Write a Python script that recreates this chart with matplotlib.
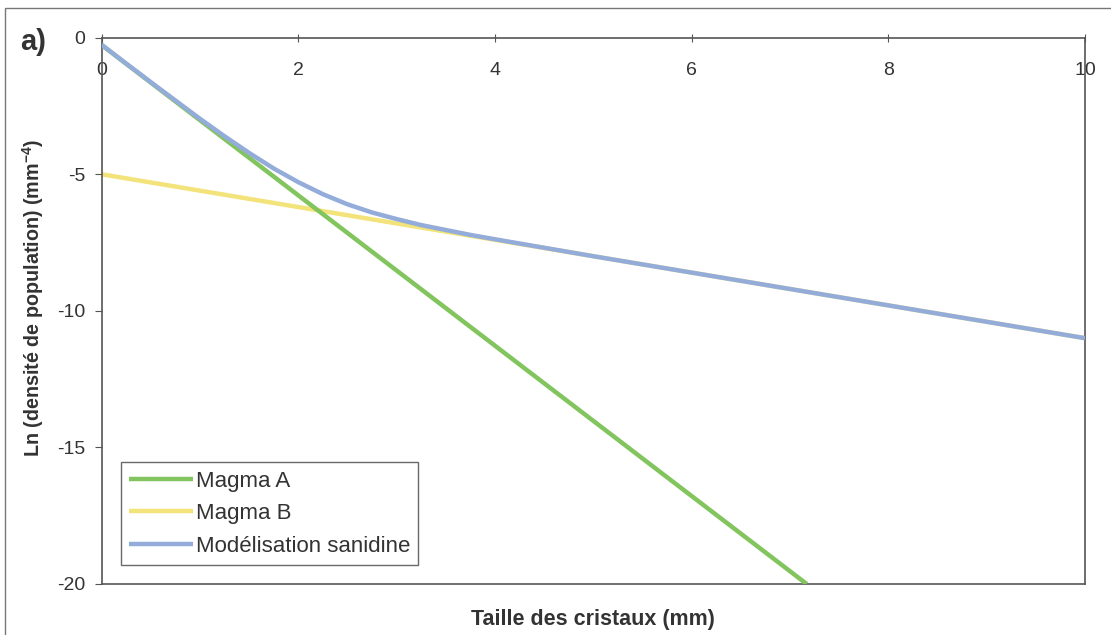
import matplotlib
matplotlib.use("Agg")
import matplotlib.pyplot as plt
from matplotlib.patches import Rectangle

plt.rcParams['font.family'] = ['Liberation Sans', 'DejaVu Sans']
plt.rcParams['mathtext.fontset'] = 'custom'
plt.rcParams['mathtext.rm'] = 'Liberation Sans'
plt.rcParams['mathtext.bf'] = 'Liberation Sans:bold'

# Crystal size distributions (size in mm, ln of population density)
magma_a_x = [0.0, 7.17]
magma_a_y = [-0.27, -20.0]

magma_b_x = [0.0, 10.0]
magma_b_y = [-5.0, -11.0]

sanidine_x = [0.0, 0.25, 0.5, 0.75, 1.0, 1.25, 1.5, 1.75, 2.0, 2.25, 2.5,
              2.75, 3.0, 3.25, 3.5, 3.75, 4.0, 4.5, 5.0, 6.0, 7.0, 8.0,
              9.0, 10.0]
sanidine_y = [-0.26, -0.95, -1.63, -2.30, -2.97, -3.61, -4.22, -4.79, -5.29,
              -5.73, -6.10, -6.40, -6.64, -6.86, -7.04, -7.22, -7.38, -7.69,
              -8.0, -8.6, -9.2, -9.8, -10.4, -11.0]

series_labels = ["Magma A", "Magma B", "Modélisation sanidine"]
x_ticks = [0, 2, 4, 6, 8, 10]
y_ticks = [0, -5, -10, -15, -20]

W, H = 1111, 635
fig = plt.figure(figsize=(W / 100, H / 100), dpi=100)
ax = fig.add_axes([101.7 / W, 1 - 584 / H, (1085 - 101.7) / W, (584 - 37.7) / H])

green = '#82c45e'
yellow = '#f2e37a'
blue = '#93acd9'
lw = 3.2

ax.plot(magma_a_x, magma_a_y, color=green, lw=lw, solid_capstyle='butt',
        label=series_labels[0], zorder=3)
ax.plot(magma_b_x, magma_b_y, color=yellow, lw=lw, solid_capstyle='butt',
        label=series_labels[1], zorder=2)
ax.plot(sanidine_x, sanidine_y, color=blue, lw=lw, solid_capstyle='butt',
        label=series_labels[2], zorder=4)

ax.set_xlim(0, 10)
ax.set_ylim(-20, 0)

spine_col = '#555555'
for s in ax.spines.values():
    s.set_color(spine_col)
    s.set_linewidth(1.2)

ax.set_xticks(x_ticks)
ax.set_xticklabels([str(v) for v in x_ticks])
ax.set_yticks(y_ticks)
ax.set_yticklabels([str(v) for v in y_ticks])

ax.tick_params(axis='x', top=True, bottom=False, labeltop=True,
               labelbottom=False, direction='inout', length=6,
               color=spine_col, labelsize=14, labelcolor='#333333', pad=-33)
ax.tick_params(axis='y', direction='out', length=5, color=spine_col,
               labelsize=14, labelcolor='#333333', pad=7)

leg = ax.legend(loc='lower left', bbox_to_anchor=(0.0193, 0.0348),
                borderaxespad=0, fancybox=False, frameon=True,
                fontsize=16, handlelength=2.9, handletextpad=0.1,
                labelspacing=0.52, borderpad=0.37)
leg.get_frame().set_edgecolor('#444444')
leg.get_frame().set_linewidth(1.0)
for t in leg.get_texts():
    t.set_color('#333333')

fig.text(593 / W, 1 - 620 / H, "Taille des cristaux (mm)", ha='center',
         va='center', fontsize=15.5, fontweight='bold', color='#333333')
fig.text(33 / W, 1 - 298 / H,
         r'Ln (densité de population) (mm$^{\mathbf{-4}}$)',
         ha='center', va='center', rotation=90, fontsize=14.2,
         fontweight='bold', color='#333333')
fig.text(33.5 / W, 1 - 42 / H, "a)", ha='center', va='center', fontsize=21,
         fontweight='bold', color='#333333')

# outer frame of the figure panel
fig.patches.append(Rectangle((5 / W, -0.1), 1.2, 1 - 8 / H + 0.1,
                             transform=fig.transFigure, fill=False,
                             edgecolor='#777777', lw=1.0))

fig.savefig("out.png", dpi=100)
